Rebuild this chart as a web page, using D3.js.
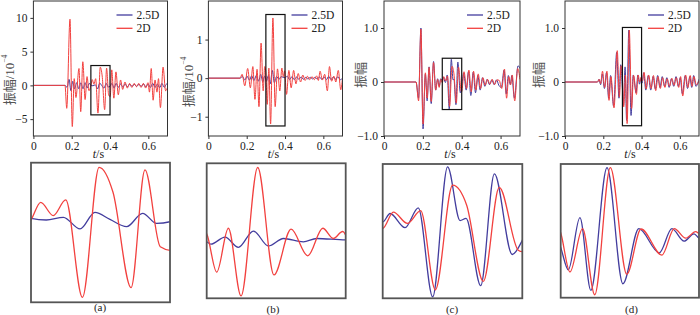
<!DOCTYPE html>
<html>
<head>
<meta charset="utf-8">
<script src="https://cdnjs.cloudflare.com/ajax/libs/d3/7.8.5/d3.min.js"></script>
<style>
body { margin: 0; background: #fff; }
text { font-family: "Liberation Serif", "Times New Roman", serif; fill: #222; }
</style>
</head>
<body>
<div id="chart"></div>
<script>
// ---- data ----
const seriesNames = ["2.5D", "2D"];
const timeTicks = [0, 0.2, 0.4, 0.6];
const timeDomain = [0, 0.7];
const zoomWindow = [0.3, 0.4];
const panelLetters = ["(a)", "(b)", "(c)", "(d)"];

const ampDomainA = [-7.5, 12.5], ampTicksA = [-5, 0, 5, 10], boxAmpA = [-4.37, 2.94];
const ampDomainB = [-1.5, 2], ampTicksB = [-1, 0, 1], boxAmpB = [-1.24, 1.65];
const ampDomainC = [-1, 1.5], ampTicksC = [-1, 0, 1], boxAmpC = [-0.51, 0.44];
const ampDomainD = [-1, 1.5], ampTicksD = [-1, 0, 1], boxAmpD = [-0.81, 1.01];

// [t (s), amplitude] at peaks / troughs
const blueA = [[0,0],[0.165,0],[0.176,-0.3],[0.186,0.9],[0.196,-0.8],[0.205,0.6],[0.215,-0.5],[0.226,0.4],[0.237,-0.5],[0.248,0.4],[0.259,-0.5],[0.27,0.4],[0.281,-0.4],[0.291,0.3],[0.3,0.03],[0.311,-0.06],[0.3233,0.08],[0.3353,-0.53],[0.346,0.34],[0.3568,-0.03],[0.3688,-0.41],[0.3803,0.29],[0.3904,-0.24],[0.4,-0.15],[0.41,0.3],[0.421,-0.4],[0.432,0.3],[0.443,-0.3],[0.455,0.2],[0.467,-0.25],[0.479,0.2],[0.491,-0.2],[0.503,0.15],[0.515,-0.15],[0.527,0.15],[0.539,-0.15],[0.551,0.15],[0.563,-0.15],[0.575,0.2],[0.587,-0.2],[0.599,0.2],[0.611,-0.3],[0.623,0.3],[0.635,-0.3],[0.647,0.2],[0.659,-0.35],[0.671,0.3],[0.683,-0.3],[0.695,0.2],[0.7,0.1]];
const redA = [[0,0],[0.165,0],[0.174,-3.4],[0.191,9.8],[0.203,-6.1],[0.213,1.0],[0.222,-1.8],[0.238,2.5],[0.247,-3.9],[0.258,3.5],[0.27,-2.1],[0.28,1.3],[0.29,-0.8],[0.3,-0.06],[0.307,0.86],[0.316,0.17],[0.325,0.99],[0.337,-4.11],[0.349,2.7],[0.359,1.39],[0.372,-3.6],[0.382,2.56],[0.393,-1.46],[0.401,-1.65],[0.409,2.3],[0.42,-1.9],[0.431,2.0],[0.443,-1.4],[0.455,0.8],[0.466,-0.6],[0.478,0.5],[0.49,-0.4],[0.502,0.3],[0.514,-0.3],[0.526,0.3],[0.538,-0.2],[0.55,0.3],[0.562,-0.3],[0.574,0.3],[0.586,-0.4],[0.598,0.4],[0.606,-1.0],[0.615,2.5],[0.625,-2.2],[0.635,0.8],[0.645,-1.0],[0.653,1.0],[0.663,-3.3],[0.677,2.7],[0.69,-0.8],[0.7,-0.3]];

const blueB = [[0,0],[0.165,0],[0.178,0.04],[0.19,-0.05],[0.202,0.05],[0.214,-0.05],[0.226,0.06],[0.238,-0.06],[0.25,0.07],[0.262,-0.08],[0.273,0.1],[0.284,-0.1],[0.293,0.05],[0.3,-0.03],[0.303,-0.08],[0.3132,0.07],[0.3228,-0.15],[0.3336,0.2],[0.3444,-0.12],[0.3552,0.04],[0.3695,-0.03],[0.3791,0.04],[0.4,0.01],[0.412,0.05],[0.424,-0.04],[0.436,0.04],[0.448,-0.04],[0.46,0.03],[0.472,-0.03],[0.484,0.03],[0.496,-0.03],[0.508,0.02],[0.52,-0.02],[0.532,0.02],[0.544,-0.02],[0.556,0.02],[0.568,-0.02],[0.58,0.03],[0.592,-0.03],[0.604,0.03],[0.616,-0.04],[0.628,0.05],[0.64,-0.04],[0.652,0.03],[0.664,-0.03],[0.676,0.04],[0.688,-0.04],[0.7,0]];
const redB = [[0,0],[0.165,0],[0.176,0.1],[0.19,-0.2],[0.205,0.25],[0.219,-0.25],[0.232,0.3],[0.243,-0.55],[0.254,0.23],[0.264,-0.74],[0.275,0.91],[0.286,-0.33],[0.294,0.3],[0.3,0.14],[0.3072,-0.68],[0.3156,0.26],[0.3247,-1.19],[0.3367,1.56],[0.3484,-0.74],[0.3607,0.24],[0.3727,-0.33],[0.3835,0.26],[0.3911,0.04],[0.3978,0.19],[0.408,-0.42],[0.42,0.2],[0.432,-0.25],[0.445,0.2],[0.457,-0.15],[0.469,0.12],[0.481,-0.1],[0.493,0.08],[0.505,-0.06],[0.517,0.05],[0.529,-0.04],[0.541,0.04],[0.553,-0.04],[0.565,0.06],[0.574,-0.06],[0.583,0.18],[0.595,-0.05],[0.607,0.1],[0.621,-0.33],[0.632,0.3],[0.643,-0.08],[0.655,0.05],[0.665,-0.1],[0.678,0.2],[0.691,-0.3],[0.7,0]];

const blueC = [[0,0],[0.165,0],[0.178,-0.3],[0.19,1.0],[0.201,-0.87],[0.213,0.15],[0.222,-0.35],[0.232,0.28],[0.243,-0.4],[0.255,0.38],[0.266,-0.15],[0.276,0.06],[0.284,-0.08],[0.292,0.06],[0.3,0.03],[0.3053,0.09],[0.316,-0.01],[0.3255,0.13],[0.3358,-0.5],[0.3465,0.42],[0.3554,0.04],[0.3597,0.055],[0.3702,-0.42],[0.38,0.37],[0.3928,-0.2],[0.4,-0.1],[0.41,0.17],[0.423,-0.15],[0.435,0.2],[0.447,-0.25],[0.459,0.18],[0.471,-0.2],[0.483,0.12],[0.495,-0.15],[0.507,0.08],[0.519,-0.08],[0.531,0.05],[0.543,-0.05],[0.555,0.04],[0.567,-0.05],[0.579,0.04],[0.591,-0.06],[0.604,-0.1],[0.618,0.22],[0.629,-0.22],[0.64,0.12],[0.65,-0.05],[0.658,0.12],[0.671,-0.3],[0.69,0.3],[0.7,0.25]];
const redC = [[0,0],[0.165,0],[0.178,-0.35],[0.19,0.98],[0.201,-0.78],[0.213,0.17],[0.222,-0.3],[0.232,0.27],[0.243,-0.36],[0.255,0.36],[0.266,-0.15],[0.276,0.05],[0.284,-0.1],[0.292,0.05],[0.3,-0.015],[0.3076,0.1],[0.3177,0.02],[0.3272,0.11],[0.3377,-0.45],[0.3501,0.29],[0.3601,0.15],[0.3721,-0.39],[0.3835,0.275],[0.3971,-0.17],[0.4,-0.18],[0.412,0.19],[0.425,-0.12],[0.437,0.22],[0.449,-0.18],[0.461,0.2],[0.473,-0.15],[0.485,0.15],[0.497,-0.12],[0.509,0.08],[0.521,-0.06],[0.533,0.05],[0.545,-0.04],[0.557,0.05],[0.569,-0.05],[0.581,0.04],[0.593,0.03],[0.606,-0.12],[0.62,0.24],[0.631,-0.3],[0.642,0.1],[0.652,-0.05],[0.66,0.13],[0.673,-0.35],[0.688,0.25],[0.7,0.05]];

const blueD = [[0,0],[0.17,0],[0.178,0.05],[0.186,-0.05],[0.195,0.15],[0.206,-0.12],[0.217,0.18],[0.228,-0.3],[0.238,0.12],[0.254,-0.45],[0.27,0.55],[0.282,-0.3],[0.291,0.32],[0.3,-0.125],[0.3055,-0.43],[0.3139,0.28],[0.3218,-0.71],[0.3335,0.96],[0.345,-0.62],[0.3565,0.13],[0.3713,-0.2],[0.3804,0.13],[0.3892,-0.04],[0.3964,0.06],[0.4,0],[0.403,-0.02],[0.411,0.17],[0.422,-0.15],[0.435,0.12],[0.448,-0.15],[0.46,0.1],[0.472,-0.13],[0.484,0.12],[0.496,-0.1],[0.508,0.1],[0.52,-0.08],[0.532,0.08],[0.544,-0.1],[0.556,0.06],[0.568,-0.08],[0.58,0.1],[0.592,-0.08],[0.602,0.08],[0.613,-0.22],[0.628,0.12],[0.64,-0.12],[0.652,0.1],[0.662,-0.1],[0.672,0.12],[0.684,-0.08],[0.7,0.05]];
const redD = [[0,0],[0.17,0],[0.178,0.05],[0.186,-0.03],[0.196,0.2],[0.207,-0.1],[0.219,0.2],[0.23,-0.34],[0.24,0.1],[0.256,-0.48],[0.273,0.58],[0.284,-0.28],[0.293,0.3],[0.3,0.075],[0.3067,-0.46],[0.3158,0.13],[0.3246,-0.77],[0.3359,0.96],[0.3478,-0.49],[0.3581,0.125],[0.3732,-0.23],[0.3821,0.13],[0.3904,0],[0.3976,0.09],[0.4,0.06],[0.404,0.02],[0.413,0.18],[0.424,-0.13],[0.437,0.13],[0.45,-0.12],[0.462,0.12],[0.474,-0.16],[0.486,0.1],[0.498,-0.12],[0.51,0.08],[0.522,-0.1],[0.534,0.06],[0.546,-0.08],[0.558,0.07],[0.57,-0.06],[0.582,0.08],[0.594,-0.1],[0.604,0.1],[0.615,-0.26],[0.63,0.13],[0.642,-0.1],[0.654,0.12],[0.664,-0.08],[0.674,0.1],[0.686,-0.05],[0.7,0.02]];

// ---- layout ----
const blueColor = "#433d9e", redColor = "#f2413f";
const topFrames = [
    {left: 33.4, right: 167.5, legend: 116.5, yLabelX: 9, yLabelY: 80, unit: true},
    {left: 208.4, right: 342.5, legend: 291.5, yLabelX: 188, yLabelY: 82, unit: true},
    {left: 384, right: 520, legend: 467, yLabelX: 360, yLabelY: 75, unit: false},
    {left: 565, right: 699, legend: 648, yLabelX: 538, yLabelY: 75, unit: false}
];
const topY = [136, 1];
const bottomFrames = [
    {x0: 31, y0: 162.7, x1: 170, y1: 302.3, labX: 100, labY: 310.5},
    {x0: 206.7, y0: 163.3, x1: 345.7, y1: 298.3, labX: 273, labY: 312.5},
    {x0: 382.7, y0: 164, x1: 522.3, y1: 298.3, labX: 452, labY: 312.5},
    {x0: 560.7, y0: 164, x1: 699, y1: 297.7, labX: 631.5, labY: 312.5}
];

const panels = [
    {blue: blueA, red: redA, domain: ampDomainA, ticks: ampTicksA, box: boxAmpA, fmt: d3.format("d")},
    {blue: blueB, red: redB, domain: ampDomainB, ticks: ampTicksB, box: boxAmpB, fmt: d3.format("d")},
    {blue: blueC, red: redC, domain: ampDomainC, ticks: ampTicksC, box: boxAmpC, fmt: d => d === 0 ? "0" : d3.format(".1f")(d)},
    {blue: blueD, red: redD, domain: ampDomainD, ticks: ampTicksD, box: boxAmpD, fmt: d => d === 0 ? "0" : d3.format(".1f")(d)}
];

const svg = d3.select("#chart").append("svg")
    .attr("width", 700)
    .attr("height", 315);

const defs = svg.append("defs");

panels.forEach((p, i) => {
    const f = topFrames[i];
    const x = d3.scaleLinear().domain(timeDomain).range([f.left, f.right]);
    const y = d3.scaleLinear().domain(p.domain).range(topY);

    defs.append("clipPath").attr("id", "clipTop" + i)
        .append("rect")
        .attr("x", f.left).attr("y", topY[1])
        .attr("width", f.right - f.left).attr("height", topY[0] - topY[1]);

    const g = svg.append("g");

    const line = d3.line()
        .x(d => x(d[0]))
        .y(d => y(d[1]))
        .curve(d3.curveMonotoneX);

    const plot = g.append("g").attr("clip-path", `url(#clipTop${i})`);
    plot.append("path").datum(p.blue)
        .attr("d", line).attr("fill", "none")
        .attr("stroke", blueColor).attr("stroke-width", 1);
    plot.append("path").datum(p.red)
        .attr("d", line).attr("fill", "none")
        .attr("stroke", redColor).attr("stroke-width", 1);

    // frame
    g.append("rect")
        .attr("x", f.left).attr("y", topY[1])
        .attr("width", f.right - f.left).attr("height", topY[0] - topY[1])
        .attr("fill", "none").attr("stroke", "#333").attr("stroke-width", 1);

    // axes
    const xAxis = g.append("g")
        .attr("transform", `translate(0,${topY[0]})`)
        .call(d3.axisBottom(x).tickValues(timeTicks).tickSize(3).tickPadding(3)
            .tickFormat(d => d === 0 ? "0" : d3.format(".1f")(d)));
    const yAxis = g.append("g")
        .attr("transform", `translate(${f.left},0)`)
        .call(d3.axisLeft(y).tickValues(p.ticks).tickSize(3).tickPadding(3).tickFormat(p.fmt));
    [xAxis, yAxis].forEach(a => {
        a.attr("font-family", "Liberation Serif, serif");
        a.select(".domain").remove();
        a.selectAll(".tick line").attr("stroke", "#333");
        a.selectAll("text").attr("font-size", 11.5).attr("fill", "#222");
    });

    // zoom window box
    g.append("rect")
        .attr("x", x(zoomWindow[0])).attr("y", y(p.box[1]))
        .attr("width", x(zoomWindow[1]) - x(zoomWindow[0]))
        .attr("height", y(p.box[0]) - y(p.box[1]))
        .attr("fill", "none").attr("stroke", "#111").attr("stroke-width", 1.2);

    // legend
    [blueColor, redColor].forEach((c, k) => {
        const ly = 15 + k * 13.3;
        g.append("line")
            .attr("x1", f.legend).attr("x2", f.legend + 16)
            .attr("y1", ly).attr("y2", ly)
            .attr("stroke", c).attr("stroke-width", 1.3);
        g.append("text")
            .attr("x", f.legend + 20).attr("y", ly)
            .attr("dy", "0.35em")
            .attr("font-size", 11.5)
            .text(seriesNames[k]);
    });

    // x title
    const xt = g.append("text")
        .attr("x", (f.left + f.right) / 2 - 2).attr("y", 158)
        .attr("text-anchor", "middle").attr("font-size", 12);
    xt.append("tspan").attr("font-style", "italic").text("t");
    xt.append("tspan").text("/s");

    // y title
    const yt = g.append("text")
        .attr("transform", `translate(${f.yLabelX},${f.yLabelY}) rotate(-90)`)
        .attr("text-anchor", "middle").attr("dy", "0.35em").attr("font-size", 13);
    yt.append("tspan").attr("font-family", "Noto Sans CJK SC").attr("fill", "#555").text("振幅");
    if (f.unit) {
        yt.append("tspan").attr("fill", "#444").text("/10");
        yt.append("tspan").attr("font-size", 7.5).attr("dy", "-0.9em").attr("fill", "#444").text("\u22124");
    }

    // bottom zoomed panel
    const b = bottomFrames[i];
    const x2 = d3.scaleLinear().domain(zoomWindow).range([b.x0, b.x1]);
    const y2 = d3.scaleLinear().domain(p.box).range([b.y1, b.y0]);

    defs.append("clipPath").attr("id", "clipBot" + i)
        .append("rect")
        .attr("x", b.x0).attr("y", b.y0)
        .attr("width", b.x1 - b.x0).attr("height", b.y1 - b.y0);

    const line2 = d3.line()
        .x(d => x2(d[0]))
        .y(d => y2(d[1]))
        .curve(d3.curveMonotoneX);

    const plot2 = svg.append("g").attr("clip-path", `url(#clipBot${i})`);
    plot2.append("path").datum(p.blue)
        .attr("d", line2).attr("fill", "none")
        .attr("stroke", blueColor).attr("stroke-width", 1.3);
    plot2.append("path").datum(p.red)
        .attr("d", line2).attr("fill", "none")
        .attr("stroke", redColor).attr("stroke-width", 1.3);

    svg.append("rect")
        .attr("x", b.x0).attr("y", b.y0)
        .attr("width", b.x1 - b.x0).attr("height", b.y1 - b.y0)
        .attr("fill", "none").attr("stroke", "#555").attr("stroke-width", 1.8);

    svg.append("text")
        .attr("x", b.labX).attr("y", b.labY)
        .attr("text-anchor", "middle").attr("font-size", 11)
        .text(panelLetters[i]);
});
</script>
</body>
</html>
